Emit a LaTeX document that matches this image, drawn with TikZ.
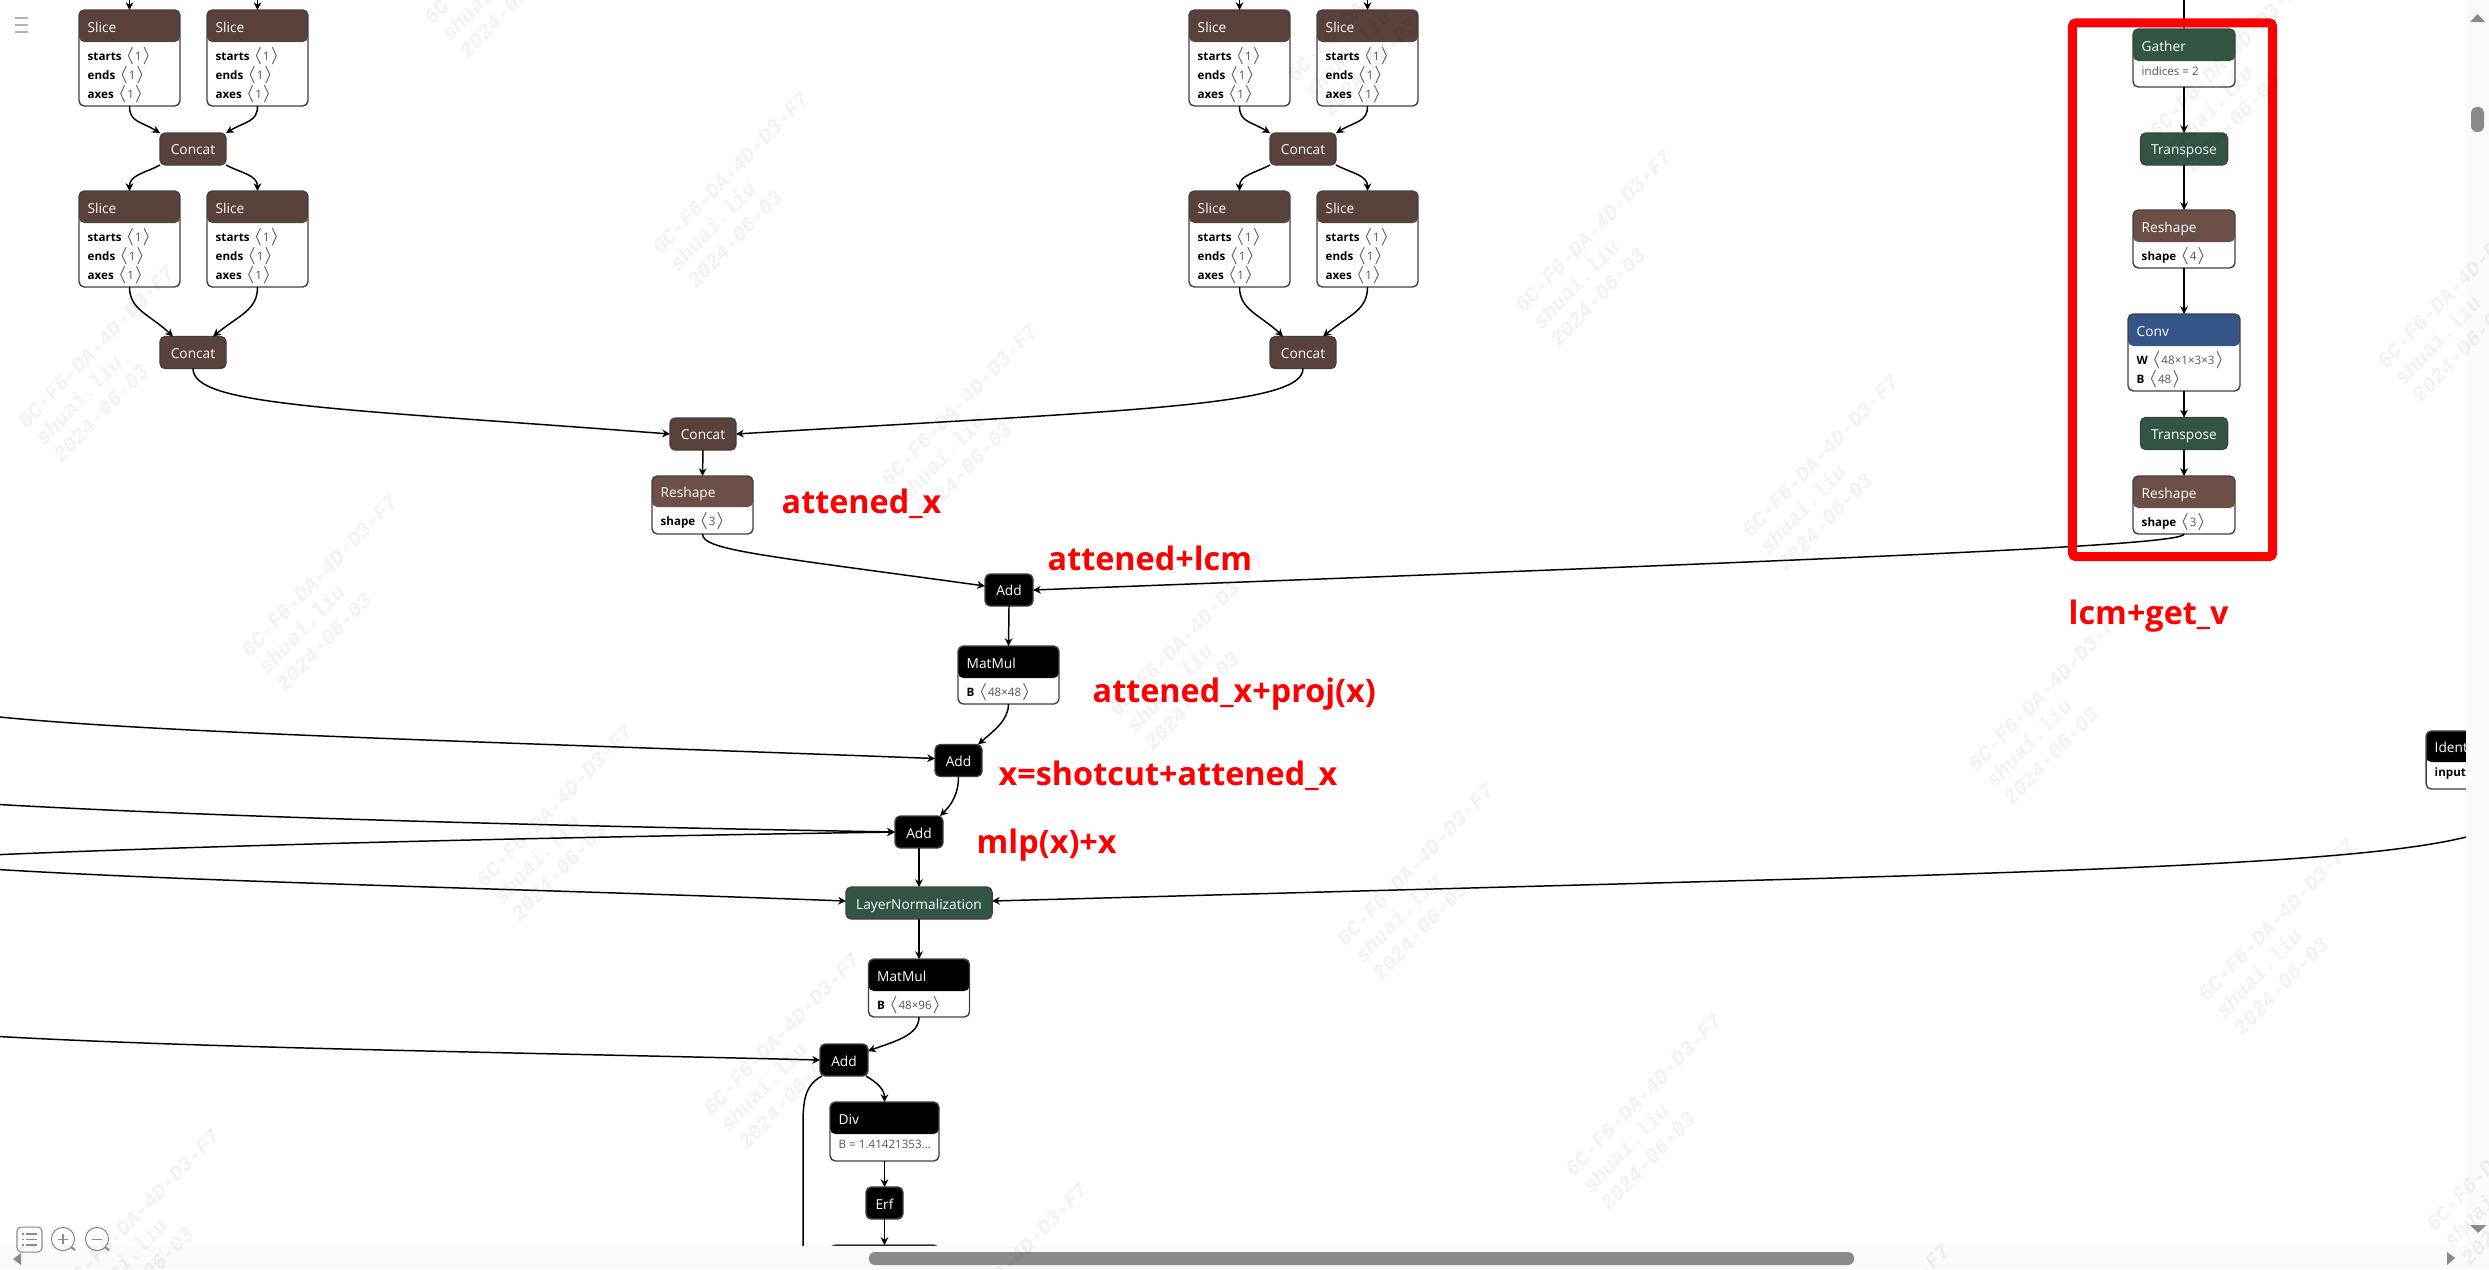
\documentclass[tikz,border=0pt]{standalone}
\usepackage{fontspec}
\usepackage{xcolor}
\setmainfont{Open Sans}
\newfontfamily\markfont{Liberation Mono}
\usetikzlibrary{calc,arrows.meta}
\definecolor{sliceclr}{HTML}{59423B}
\definecolor{shapeclr}{HTML}{6C4F47}
\definecolor{transclr}{HTML}{335544}
\definecolor{layerclr}{HTML}{335588}
\definecolor{attrval}{HTML}{555555}
\definecolor{uigray}{HTML}{8A8A8A}
\definecolor{barclr}{HTML}{FAFAFA}
\def\attrline#1#2{\textbf{#1}~\textcolor{attrval}{$\langle$#2$\rangle$}}
% box with a coloured head: name, centre x, top y, width, height, head height, colour, title, lines
\newcommand{\opbox}[9]{%
  \node[opnode,minimum width=#4*.01cm,minimum height=#5*.01cm,
    path picture={\fill[#7] (path picture bounding box.north west) rectangle
      ([yshift=-#6*.01cm]path picture bounding box.north east);}]
    (#1) at (#2,#3+#5/2) {};
  \node[optitle] (#1t) at ($(#1.north west)+(8,#6/2+6)$) {#8};
  \node[opattr] (#1a) at ($(#1.north west)+(8,#6+5)$) {#9};
}
\def\sliceop#1#2#3{\opbox{#1}{#2}{#3}{101}{96}{32}{sliceclr}{Slice}
  {\attrline{starts}{1}\\\attrline{ends}{1}\\\attrline{axes}{1}}}
\tikzset{
  opnode/.style={draw=black!75,fill=white,line width=.4pt,rounded corners=1.5pt,
    inner sep=0pt,outer sep=0pt},
  optitle/.style={anchor=base west,inner sep=0pt,text=white,font=\fontsize{3.9}{5}\selectfont},
  opattr/.style={anchor=north west,inner sep=0pt,align=left,
    font=\fontsize{3.3}{5.4}\selectfont},
  slim/.style={draw=black!75,line width=.4pt,rounded corners=1.5pt,inner sep=0pt,outer sep=0pt,
    text=white,minimum height=.32cm,text height=4.2pt,text depth=.8pt,font=\fontsize{3.9}{5}\selectfont},
  conn/.style={line width=.42pt,-{Stealth[length=2.2pt,width=2.2pt,inset=.7pt]}},
  note/.style={anchor=base west,inner sep=0pt,text=red,font=\bfseries\fontsize{9.2}{10}\selectfont},
  watermark/.style={rotate=46,align=left,inner sep=0pt,
    text=black,text opacity=.05,font=\markfont\bfseries\itshape\fontsize{6}{7}\selectfont}
}
\begin{document}
\begin{tikzpicture}[x=.01cm,y=-.01cm]
  \useasboundingbox (0,0) rectangle (2489,1269);
  \begin{scope}
    \clip (0,0) rectangle (2466,1246);
    % two columns of slices
    \foreach \col/\dx in {a/0,b/1110}{
      \coordinate (top1\col) at (129.5+\dx,-5);
      \coordinate (top2\col) at (257.5+\dx,-5);
      \sliceop{sa\col}{129.5+\dx}{10}
      \sliceop{sb\col}{257.5+\dx}{10}
      \node[slim,fill=sliceclr,minimum width=.66cm] (ca\col) at (193+\dx,149) {Concat};
      \sliceop{sc\col}{129.5+\dx}{191}
      \sliceop{sd\col}{257.5+\dx}{191}
      \node[slim,fill=sliceclr,minimum width=.66cm] (cb\col) at (193+\dx,352.5) {Concat};
      \draw[conn] (top1\col) -- (sa\col.north);
      \draw[conn] (top2\col) -- (sb\col.north);
      \draw[conn] (sa\col.south) .. controls +(0,16) and +(-20,-12) .. (ca\col.north west);
      \draw[conn] (sb\col.south) .. controls +(0,16) and +(20,-12) .. (ca\col.north east);
      \draw[conn] (ca\col.south west) .. controls +(-15,8) and +(0,-16) .. (sc\col.north);
      \draw[conn] (ca\col.south east) .. controls +(15,8) and +(0,-16) .. (sd\col.north);
      \draw[conn] (sc\col.south) .. controls +(0,23) and +(-23,-22) .. ([xshift=-.2cm]cb\col.north);
      \draw[conn] (sd\col.south) .. controls +(0,23) and +(27,-22) .. ([xshift=.2cm]cb\col.north);
    }
    % middle chain
    \node[slim,fill=sliceclr,minimum width=.66cm] (cc) at (703,434) {Concat};
    \opbox{rsa}{702.5}{476}{101}{58}{31}{shapeclr}{Reshape}{\attrline{shape}{3}}
    \node[slim,fill=black,minimum width=.48cm] (adda) at (1009,590) {Add};
    \opbox{mma}{1008.5}{646}{101}{58}{32}{black}{MatMul}{\attrline{B}{48×48}}
    \node[slim,fill=black,minimum width=.47cm] (addb) at (958.5,760.5) {Add};
    \node[slim,fill=black,minimum width=.48cm] (addc) at (919,832) {Add};
    \node[slim,fill=transclr,minimum width=1.46cm] (lnorm) at (919,903) {LayerNormalization};
    \opbox{mmb}{919}{959}{101}{58}{32}{black}{MatMul}{\attrline{B}{48×96}}
    \node[slim,fill=black,minimum width=.48cm] (addd) at (844,1060) {Add};
    \opbox{divn}{884.5}{1102}{109}{59}{32}{black}{Div}{\textcolor{attrval}{B = 1.41421353...}}
    \node[slim,fill=black,minimum width=.37cm] (erfn) at (884.5,1203) {Erf};
    \node[slim,fill=black,minimum width=1.09cm] (nextn) at (884.5,1261) {};
    % right chain
    \coordinate (topr) at (2184,-5);
    \opbox{gath}{2184}{29}{102}{58}{32}{transclr}{Gather}{\textcolor{attrval}{indices = 2}}
    \node[slim,fill=transclr,minimum width=.87cm] (tra) at (2184,149) {Transpose};
    \opbox{rsb}{2184}{210}{102}{58}{32}{shapeclr}{Reshape}{\attrline{shape}{4}}
    \opbox{conv}{2184}{314}{112}{77}{32}{layerclr}{Conv}{\attrline{W}{48×1×3×3}\\\attrline{B}{48}}
    \node[slim,fill=transclr,minimum width=.87cm] (trb) at (2184,433.5) {Transpose};
    \opbox{rsc}{2184}{476}{102}{58}{32}{shapeclr}{Reshape}{\attrline{shape}{3}}
    \opbox{iden}{2476}{731}{100}{58}{31}{black}{Identity}{\textbf{input}}
    \foreach \a/\b in {topr/gath,gath/tra,tra/rsb,rsb/conv,conv/trb,trb/rsc}
      \draw[conn] (\a.south) -- (\b.north);
    \foreach \a/\b in {cc/rsa,adda/mma,addc/lnorm,lnorm/mmb,divn/erfn,erfn/nextn}
      \draw[conn] (\a.south) -- (\b.north);
    \draw[conn] (cba.south) .. controls +(0,37) and (330,408) .. (cc.west);
    \draw[conn] (cbb.south) .. controls +(0,37) and (1140,410) .. (cc.east);
    \draw[conn] (rsa.south) .. controls +(0,16) and (760,555) .. ([yshift=.04cm]adda.west);
    \draw[conn] (rsc.south) .. controls +(0,11) and (1900,557) .. (adda.east);
    \draw[conn] (mma.south) .. controls +(0,16) and +(16,-14) .. ([xshift=-.04cm]addb.north east);
    \draw[conn] (addb.south) .. controls +(0,19) and +(10,-10) .. ([xshift=-.03cm]addc.north east);
    \draw[conn] (mmb.south) .. controls +(0,18) and +(28,-10) .. ($(addd.north east)+(0,7)$);
    \draw[conn] ($(addd.south east)+(-2,0)$) .. controls +(12,7) and +(0,-12) .. (divn.north);
    % edges coming in from outside the panel
    \coordinate (ina) at (-10,716);
    \coordinate (inb) at (-10,804);
    \coordinate (inc) at (-10,855);
    \coordinate (ind) at (-10,869);
    \coordinate (ine) at (-10,1036);
    \coordinate (inf) at (2490,830);
    \coordinate (outa) at (803,1260);
    \draw[conn] (ina) .. controls (150,733) and (500,742) .. ([yshift=.02cm]addb.west);
    \draw[conn] (inb) .. controls (200,816) and (500,825) .. (addc.west);
    \draw[conn] (inc) .. controls (200,846) and (500,838) .. (addc.west);
    \draw[conn] (ind) .. controls (200,882) and (500,888) .. ([yshift=.02cm]lnorm.west);
    \draw[conn] (ine) .. controls (200,1048) and (500,1052) .. (addd.west);
    \draw[conn] (inf) .. controls (2420,855) and (2250,866) .. (1800,879) -- ([yshift=.02cm]lnorm.east);
    \draw[line width=.42pt] ($(addd.south west)+(2,0)$) .. controls (805,1085) and (803,1100) .. (803,1125) -- (outa);
  \end{scope}
  % viewer bars and buttons
  \fill[barclr] (2466,0) rectangle (2489,1269);
  \fill[barclr] (0,1246) rectangle (2489,1269);
  \fill[uigray,rounded corners=1.7pt] (2471,107) rectangle (2484,132);
  \fill[uigray,rounded corners=1.7pt] (869,1252) rectangle (1854,1265);
  \fill[uigray] (2470,22) -- (2485,22) -- (2477.5,14) -- cycle;
  \fill[uigray] (2470,1225) -- (2486,1225) -- (2478,1233) -- cycle;
  \fill[uigray] (13,1259) -- (21,1253) -- (21,1265) -- cycle;
  \fill[uigray] (2455,1258) -- (2447,1252) -- (2447,1265) -- cycle;
  \foreach \ypos in {18,25,32}
    \draw[black!30,line width=.6pt] (15,\ypos) -- (28,\ypos);
  \draw[uigray,line width=.3pt,rounded corners=1.2pt] (17,1227) rectangle (42,1252);
  \foreach \ypos in {1234,1239.5,1245}{
    \draw[uigray,line width=.4pt] (22,\ypos) -- (24,\ypos);
    \draw[uigray,line width=.4pt] (26,\ypos) -- (37,\ypos);
  }
  \foreach \xpos in {63,97}{
    \draw[uigray,line width=.3pt] (\xpos,1239) circle [radius=3.3pt];
    \draw[uigray,line width=.6pt] (\xpos+8,1247) -- (\xpos+12,1250);
    \draw[uigray,line width=.3pt] (\xpos-5,1239) -- (\xpos+5,1239);
  }
  \draw[uigray,line width=.3pt] (63,1234) -- (63,1244);
  % notes in red
  \node[draw=red,line width=2.56pt,rounded corners=1pt,inner sep=0pt,outer sep=0pt,
    minimum width=2cm,minimum height=5.335cm] (frame) at (2172.5,289.75) {};
  \node[note] (notea) at (781,513) {attened\_x};
  \node[note] (noteb) at (1047,570) {attened+lcm};
  \node[note] (notec) at (1092,702) {attened\_x+proj(x)};
  \node[note] (noted) at (998,785) {x=shotcut+attened\_x};
  \node[note] (notee) at (976,853) {mlp(x)+x};
  \node[note] (notef) at (2068,624) {lcm+get\_v};
  % faint stamps over everything
  \foreach \wx/\wy [count=\wi] in {502/-37,730/193,959/425,1187/655,1415/885,1643/1115,1871/1345,
      96/367,319/596,554/826,781/1054,1009/1284,141/1230,
      1365/21,1593/251,1820/476,2046/710,2276/940,2504/1170,2227/77,2455/307}
    \node[watermark] (wm\wi) at (\wx+18,\wy-3) {6C-F6-DA-4D-D3-F7\\shuai.liu\\2024-06-03};
\end{tikzpicture}
\end{document}
